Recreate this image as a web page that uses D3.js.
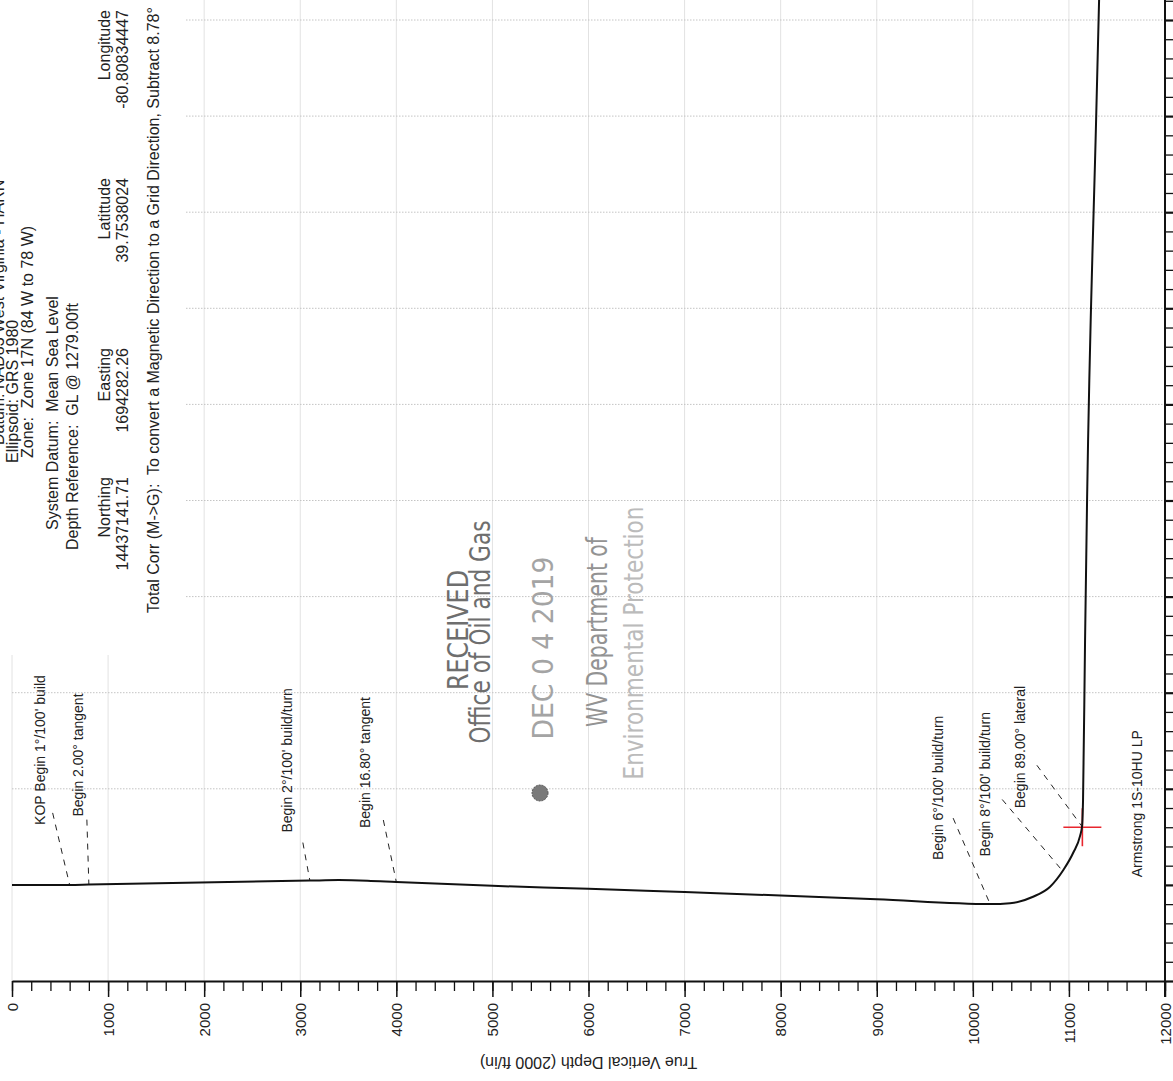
<!DOCTYPE html>
<html>
<head>
<meta charset="utf-8">
<script src="https://cdn.jsdelivr.net/npm/d3@7"></script>
<style>
  body { margin: 0; background: #fff; }
  svg { display: block; font-family: "Liberation Sans", Arial, sans-serif; }
</style>
</head>
<body>
<svg id="plot" width="1173" height="1081"></svg>
<script>
// well path: true vertical depth (ft) vs vertical section (ft)
const pathTvd = [0, 600, 800, 3100, 3400, 3700, 4000, 5000, 6000, 7000, 8000, 9000,
    10180, 10387, 10627, 10804, 10942, 11046, 11116, 11137, 11147, 11168, 11189, 11283, 11314];
const pathVs = [0, 0, 3, 45, 50, 44, 30, -10, -40, -75, -110, -150,
    -200, -191, -123, -19, 155, 337, 510, 613, 884, 2548, 4005, 7959, 9208];

// design points along the path
const markNames = ["KOP Begin 1°/100' build", "Begin 2.00° tangent", "Begin 2°/100' build/turn",
    "Begin 16.80° tangent", "Begin 6°/100' build/turn", "Begin 8°/100' build/turn", "Begin 89.00° lateral"];
const markTvd = [600, 800, 3100, 4000, 10180, 10930, 11135];
const markVs = [0, 3, 45, 30, -200, 150, 610];

// landing point target
const targetName = "Armstrong 1S-10HU LP";
const targetTvd = 11140;
const targetVs = 600;

const tvdTicks = d3.range(0, 12001, 1000);
const tvdMinor = d3.range(0, 12001, 200);
const vsGrid = d3.range(1000, 9001, 1000);
const vsMinor = d3.range(-1000, 9201, 200);

// label layout (pixels, relative to the design point / label)
const labelOff = [[-25, -60], [-6, -68], [-18, -48], [-26, -54], [-47, -44], [-72, -14], [-57, -18]];
const leaderOff = [[8, -12], [4, 3], [11, 10], [13, -8], [10, -42], [12, -57], [12, -43]];

let svg = d3.select("#plot");
let x = d3.scaleLinear().domain([0, 12000]).range([12, 1165]);
let y = d3.scaleLinear().domain([-1000, 9000]).range([981, 20]);

// grid
svg.append("g")
    .selectAll("line")
    .data(tvdTicks.slice(0, -1))
    .enter()
    .append("line")
    .attr("x1", (d) => x(d))
    .attr("x2", (d) => x(d))
    .attr("y1", 0)
    .attr("y2", y(-1000))
    .attr("stroke", "#e2e2e2")
    .attr("stroke-width", 1);

svg.append("g")
    .selectAll("line")
    .data(vsGrid)
    .enter()
    .append("line")
    .attr("x1", x(0))
    .attr("x2", x(12000))
    .attr("y1", (d) => y(d))
    .attr("y2", (d) => y(d))
    .attr("stroke", "#c4c4c4")
    .attr("stroke-width", 1)
    .attr("stroke-dasharray", "1.5,1.5");

// header box blanks the grid behind it
svg.append("rect")
    .attr("x", 0)
    .attr("y", 0)
    .attr("width", 185)
    .attr("height", 655)
    .attr("fill", "#fff");

// header block
const header = [
    { t: "Datum: NAD83 West Virginia - HARN", x: 4, y: 445 },
    { t: "Ellipsoid: GRS 1980", x: 18, y: 463 },
    { t: "Zone:  Zone 17N (84 W to 78 W)", x: 33, y: 458 },
    { t: "System Datum:  Mean Sea Level", x: 58, y: 530 },
    { t: "Depth Reference:  GL @ 1279.00ft", x: 78, y: 550 },
    { t: "Northing", x: 110, y: 477, a: "end" },
    { t: "14437141.71", x: 128, y: 477, a: "end" },
    { t: "Easting", x: 110, y: 348, a: "end" },
    { t: "1694282.26", x: 128, y: 348, a: "end" },
    { t: "Latittude", x: 110, y: 178, a: "end" },
    { t: "39.7538024", x: 128, y: 178, a: "end" },
    { t: "Longitude", x: 110, y: 10, a: "end" },
    { t: "-80.80834447", x: 128, y: 10, a: "end" },
    { t: "Total Corr (M->G):  To convert a Magnetic Direction to a Grid Direction, Subtract 8.78°", x: 159, y: 613 },
];
svg.append("g")
    .selectAll("text")
    .data(header)
    .enter()
    .append("text")
    .attr("transform", (d) => `translate(${d.x},${d.y}) rotate(-90)`)
    .attr("text-anchor", (d) => d.a || "start")
    .attr("font-size", 16)
    .attr("fill", "#222")
    .style("white-space", "pre")
    .text((d) => d.t);

// stamp
const stamp = [
    { t: "RECEIVED", x: 468, y: 630, w: 120, s: 28, c: "#6e6e6e" },
    { t: "Office of Oil and Gas", x: 490, y: 632, w: 223, s: 28, c: "#6e6e6e" },
    { t: "DEC 0 4 2019", x: 553, y: 648, w: 183, s: 28, c: "#a4a4a4" },
    { t: "WV Department of", x: 607, y: 632, w: 190, s: 28, c: "#939393" },
    { t: "Environmental Protection", x: 643, y: 643, w: 273, s: 26, c: "#bbbbbb" },
];
let stampG = svg.append("g");
stampG
    .selectAll("text")
    .data(stamp)
    .enter()
    .append("text")
    .attr("transform", (d) => `translate(${d.x},${d.y}) rotate(-90)`)
    .attr("text-anchor", "middle")
    .attr("font-family", "'Liberation Sans Narrow', 'DejaVu Sans Condensed', sans-serif")
    .attr("font-size", (d) => d.s)
    .attr("textLength", (d) => d.w)
    .attr("lengthAdjust", "spacingAndGlyphs")
    .attr("fill", (d) => d.c)
    .text((d) => d.t);
stampG.append("circle")
    .attr("cx", 540)
    .attr("cy", 793)
    .attr("r", 8)
    .attr("fill", "#7a7a7a")
    .attr("stroke", "#555")
    .attr("stroke-dasharray", "2,1");

// axes
let minorAxis = d3.axisBottom(x).tickValues(tvdMinor).tickSize(10).tickFormat("").tickSizeOuter(0);
let majorAxis = d3.axisBottom(x).tickValues(tvdTicks).tickSize(16).tickFormat(d3.format("d")).tickSizeOuter(0);

svg.append("g")
    .attr("transform", `translate(0,${y(-1000)})`)
    .call(minorAxis)
    .call((g) => g.select(".domain").remove())
    .selectAll("line")
    .attr("stroke", "#111")
    .attr("stroke-width", 1.3);

let bottom = svg.append("g")
    .attr("transform", `translate(0,${y(-1000)})`)
    .call(majorAxis);
bottom.select(".domain").attr("stroke", "#111").attr("stroke-width", 2);
bottom.selectAll("line").attr("stroke", "#111").attr("stroke-width", 1.5);
bottom.selectAll("text")
    .attr("transform", "rotate(-90)")
    .attr("x", -22)
    .attr("y", 0)
    .attr("dy", "0.35em")
    .attr("font-size", 15)
    .attr("font-family", "'Liberation Sans', Arial, sans-serif")
    .attr("fill", "#222")
    .style("text-anchor", "end");

svg.append("text")
    .attr("transform", `translate(${(x(0) + x(12000)) / 2},1057) rotate(180)`)
    .attr("text-anchor", "middle")
    .attr("font-size", 16)
    .attr("fill", "#222")
    .text("True Vertical Depth (2000 ft/in)");

let right = svg.append("g")
    .attr("transform", `translate(${x(12000)},0)`)
    .call(d3.axisRight(y).tickValues(vsMinor).tickSize(9).tickFormat("").tickSizeOuter(0));
right.select(".domain").remove();
right.selectAll("line")
    .attr("stroke", "#111")
    .attr("stroke-width", (d) => (d % 1000 === 0 ? 2.2 : 1.3));
svg.append("line")
    .attr("x1", x(12000))
    .attr("x2", x(12000))
    .attr("y1", 0)
    .attr("y2", y(-1000) + 16)
    .attr("stroke", "#111")
    .attr("stroke-width", 2);

// leaders and labels
const marks = markNames.map((n, i) => ({ name: n, tvd: markTvd[i], vs: markVs[i], lo: labelOff[i], ll: leaderOff[i] }));

svg.append("g")
    .selectAll("line")
    .data(marks)
    .enter()
    .append("line")
    .attr("x1", (d) => x(d.tvd) + d.lo[0] + d.ll[0])
    .attr("y1", (d) => y(d.vs) + d.lo[1] + d.ll[1])
    .attr("x2", (d) => x(d.tvd))
    .attr("y2", (d) => y(d.vs))
    .attr("stroke", "#222")
    .attr("stroke-width", 1)
    .attr("stroke-dasharray", "6,6");

svg.append("g")
    .selectAll("text")
    .data(marks)
    .enter()
    .append("text")
    .attr("transform", (d) => `translate(${x(d.tvd) + d.lo[0]},${y(d.vs) + d.lo[1]}) rotate(-90)`)
    .attr("font-size", 14)
    .attr("fill", "#222")
    .text((d) => d.name);

// target cross
let tg = svg.append("g").attr("stroke", "#e8262e").attr("stroke-width", 1.6);
tg.append("line")
    .attr("x1", x(targetTvd) - 19)
    .attr("x2", x(targetTvd) + 19)
    .attr("y1", y(targetVs))
    .attr("y2", y(targetVs));
tg.append("line")
    .attr("x1", x(targetTvd))
    .attr("x2", x(targetTvd))
    .attr("y1", y(targetVs) - 19)
    .attr("y2", y(targetVs) + 19);

svg.append("text")
    .attr("transform", `translate(${x(targetTvd) + 60},${y(targetVs) + 50}) rotate(-90)`)
    .attr("font-size", 14)
    .attr("fill", "#222")
    .text(targetName);

// well path
let line = d3.line()
    .x((d) => x(d[0]))
    .y((d) => y(d[1]))
    .curve(d3.curveMonotoneX);

svg.append("path")
    .datum(pathTvd.map((t, i) => [t, pathVs[i]]))
    .attr("d", line)
    .attr("fill", "none")
    .attr("stroke", "#111")
    .attr("stroke-width", 2);
</script>
</body>
</html>
